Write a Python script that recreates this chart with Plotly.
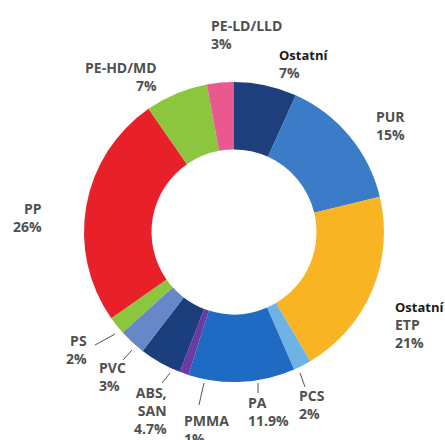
import plotly.graph_objects as go

# podíly plastů (clockwise from 12 o'clock)
labels = ['Ostatní', 'PUR', 'Ostatní ETP', 'PCS', 'PA', 'PMMA',
          'ABS, SAN', 'PVC', 'PS', 'PP', 'PE-HD/MD', 'PE-LD/LLD']
values = [7, 15, 21, 2, 11.9, 1, 4.7, 3, 2, 26, 7, 3]
colors = ['#1e3f7c', '#3b7bc8', '#f8b422', '#6fb3e6', '#1f6ac3', '#6b3aa3',
          '#1b3f7d', '#6688c8', '#8cc63f', '#e8202a', '#8cc63f', '#e9588f']

W, H = 445, 440
cx, cy, r = 234, 232, 150


def px(x, y):
    # page pixel -> paper coords
    return x / W, 1 - y / H


x0, _ = px(cx - r, 0)
x1, _ = px(cx + r, 0)
_, y0 = px(0, cy + r)
_, y1 = px(0, cy - r)

fig = go.Figure(go.Pie(
    labels=labels,
    values=values,
    marker=dict(colors=colors, line=dict(width=0)),
    hole=0.55,
    sort=False,
    direction='clockwise',
    rotation=0,
    textinfo='none',
    showlegend=False,
    domain=dict(x=[x0, x1], y=[y0, y1]),
))

GREY = '#505050'
DARK = '#1a1a1a'
OST = '<b><span style="color:%s;font-size:13px">Ostatní</span></b>' % DARK

# text labels: (text, x, y, xanchor)
label_pos = [
    ('<b>PE-LD/LLD</b><br><b>3%</b>', 209, 34, 'left', GREY),
    (OST + '<br><b>7%</b>', 277, 64, 'left', GREY),
    ('<b>PE-HD/MD</b><br><b>7%</b>', 159, 76, 'right', GREY),
    ('<b>PUR</b><br><b>15%</b>', 374, 125, 'left', GREY),
    ('<b>PP</b><br><b>26%</b>', 44, 217, 'right', GREY),
    (OST + '<br><b>ETP</b><br><b>21%</b>', 393, 325, 'left', GREY),
    ('<b>PCS</b><br><b>2%</b>', 297, 404, 'left', GREY),
    ('<b>PA</b><br><b>11.9%</b>', 246, 411, 'left', GREY),
    ('<b>PMMA</b><br><b>1%</b>', 182, 429, 'left', GREY),
    ('<b>ABS,</b><br><b>SAN</b><br><b>4.7%</b>', 169, 410, 'right', GREY),
    ('<b>PVC</b><br><b>3%</b>', 97, 376, 'left', GREY),
    ('<b>PS</b><br><b>2%</b>', 89, 349, 'right', GREY),
]

annotations = []
for text, x, y, anchor, col in label_pos:
    ax_, ay_ = px(x, y)
    annotations.append(dict(
        text=text, x=ax_, y=ay_, xref='paper', yref='paper',
        xanchor=anchor, yanchor='middle', align=anchor,
        showarrow=False, font=dict(family='Open Sans', size=14, color=col),
    ))

# leader lines for the small slices
leaders = [
    (300, 373, 305, 387),
    (258, 383, 258, 393),
    (204, 383, 199, 405),
    (170, 373, 162, 383),
    (132, 350, 123, 360),
    (115, 334, 95, 345),
]
shapes = []
for a, b, c, d in leaders:
    xa, ya = px(a, b)
    xb, yb = px(c, d)
    shapes.append(dict(type='line', xref='paper', yref='paper',
                       x0=xa, y0=ya, x1=xb, y1=yb,
                       line=dict(color='#555555', width=1)))

fig.update_layout(
    width=W, height=H,
    margin=dict(l=0, r=0, t=0, b=0),
    paper_bgcolor='white',
    annotations=annotations,
    shapes=shapes,
)

# no page margin / scrollbars so the figure fills the window
fig.write_html("out.html",
               config={'displayModeBar': False},
               post_script="document.body.style.margin='0';"
                           "document.body.style.overflow='hidden';")
